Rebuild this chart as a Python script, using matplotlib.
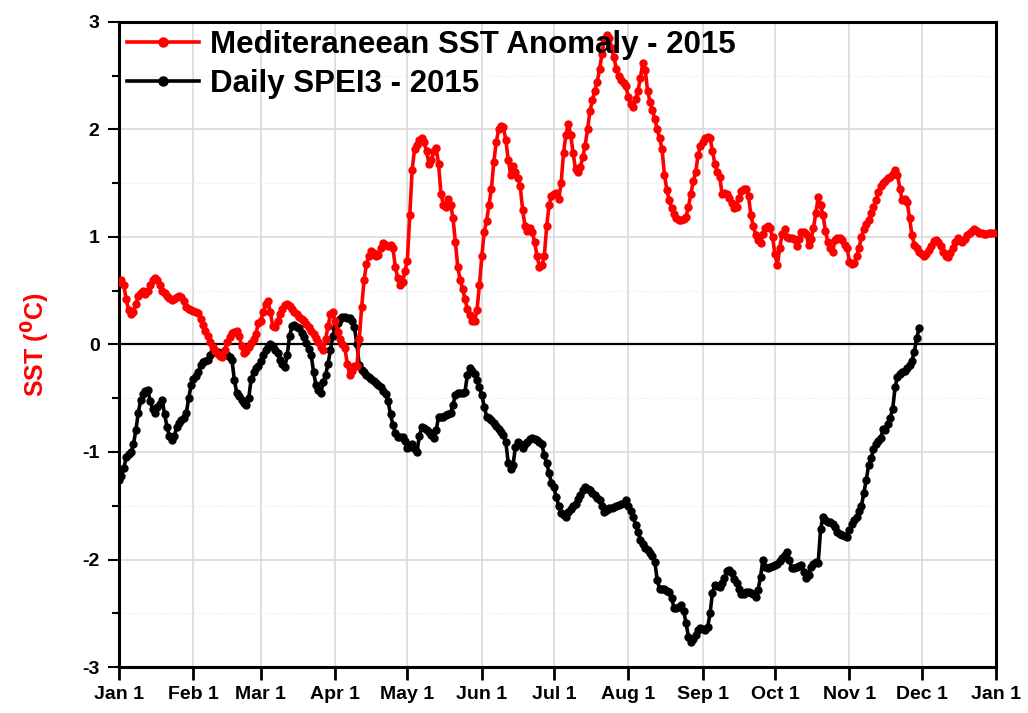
import numpy as np
import pandas as pd
import matplotlib
matplotlib.use('Agg')
import matplotlib.pyplot as plt
import matplotlib.dates as mdates
from matplotlib.ticker import MultipleLocator

# daily Mediterranean SST anomaly 2015 (Jan 1 .. Dec 31)
sst_jan = [0.58, 0.6, 0.55, 0.42, 0.32, 0.28, 0.3, 0.38, 0.45, 0.48, 0.5, 0.47, 0.5, 0.55, 0.6, 0.62,
           0.6, 0.55, 0.5, 0.48, 0.45, 0.43, 0.41, 0.42, 0.44, 0.45, 0.44, 0.4, 0.35, 0.33, 0.32]
sst_feb = [0.31, 0.3, 0.29, 0.24, 0.18, 0.13, 0.08, 0.02, -0.02, -0.06, -0.09, -0.11, -0.12, -0.05,
           0.02, 0.07, 0.11, 0.12, 0.13, 0.08, -0.01, -0.08, -0.06, -0.02, 0.01, 0.05, 0.1, 0.2]
sst_mar = [0.22, 0.3, 0.38, 0.4, 0.3, 0.17, 0.16, 0.22, 0.28, 0.33, 0.37, 0.38, 0.36, 0.33, 0.3, 0.28,
           0.26, 0.24, 0.22, 0.19, 0.16, 0.13, 0.1, 0.06, 0.02, -0.02, -0.05, 0.05, 0.17, 0.28, 0.3]
sst_apr = [0.22, 0.12, 0.05, 0.0, -0.03, -0.18, -0.28, -0.25, -0.2, -0.2, 0.05, 0.35, 0.6, 0.75, 0.82,
           0.87, 0.85, 0.82, 0.83, 0.9, 0.94, 0.93, 0.92, 0.93, 0.9, 0.72, 0.62, 0.55, 0.58, 0.68]
sst_may = [0.78, 1.2, 1.62, 1.82, 1.86, 1.9, 1.92, 1.88, 1.8, 1.68, 1.72, 1.8, 1.83, 1.68, 1.4, 1.3,
           1.28, 1.35, 1.3, 1.18, 0.95, 0.72, 0.6, 0.52, 0.42, 0.33, 0.27, 0.22, 0.22, 0.32, 0.55]
sst_jun = [0.82, 1.05, 1.15, 1.3, 1.45, 1.7, 1.88, 2.0, 2.03, 2.02, 1.9, 1.72, 1.58, 1.66, 1.6, 1.55,
           1.47, 1.25, 1.1, 1.06, 1.08, 1.05, 0.95, 0.82, 0.72, 0.74, 0.82, 1.1, 1.3, 1.38]
sst_jul = [1.4, 1.41, 1.35, 1.5, 1.78, 1.95, 2.05, 1.95, 1.78, 1.63, 1.6, 1.65, 1.74, 1.85, 2.0, 2.17,
           2.27, 2.36, 2.44, 2.56, 2.7, 2.84, 2.88, 2.85, 2.76, 2.67, 2.56, 2.5, 2.46, 2.43, 2.4]
sst_aug = [2.3, 2.24, 2.21, 2.28, 2.36, 2.48, 2.62, 2.55, 2.36, 2.26, 2.18, 2.1, 2.0, 1.92, 1.82, 1.58,
           1.44, 1.34, 1.27, 1.21, 1.18, 1.16, 1.16, 1.17, 1.19, 1.28, 1.4, 1.52, 1.6, 1.76, 1.85]
sst_sep = [1.88, 1.92, 1.93, 1.92, 1.8, 1.68, 1.6, 1.56, 1.4, 1.41, 1.4, 1.36, 1.32, 1.27, 1.28, 1.36,
           1.43, 1.45, 1.45, 1.38, 1.2, 1.1, 1.02, 0.97, 0.94, 1.03, 1.08, 1.1, 1.08, 1.0]
sst_oct = [0.84, 0.74, 0.9, 1.03, 1.07, 1.0, 0.99, 0.99, 0.98, 0.92, 0.98, 1.05, 1.05, 1.03, 0.93, 0.98,
           1.08, 1.22, 1.37, 1.3, 1.2, 1.06, 0.95, 0.9, 0.86, 0.97, 0.99, 0.99, 0.97, 0.93, 0.9]
sst_nov = [0.77, 0.75, 0.76, 0.82, 0.9, 1.0, 1.07, 1.12, 1.16, 1.22, 1.28, 1.34, 1.42, 1.47, 1.5, 1.52,
           1.55, 1.56, 1.59, 1.62, 1.58, 1.45, 1.34, 1.35, 1.33, 1.18, 1.02, 0.93, 0.9, 0.86]
sst_dec = [0.84, 0.82, 0.84, 0.88, 0.92, 0.96, 0.97, 0.95, 0.92, 0.86, 0.82, 0.81, 0.85, 0.9, 0.95, 0.99,
           0.97, 0.95, 0.98, 1.02, 1.04, 1.06, 1.07, 1.06, 1.04, 1.04, 1.03, 1.03, 1.04, 1.04, 1.04]

# daily SPEI3 2015 (Jan 1 .. Nov 30)
spei_jan = [-1.26, -1.22, -1.15, -1.05, -1.02, -1.0, -0.93, -0.8, -0.64, -0.52, -0.46, -0.43, -0.42,
            -0.53, -0.6, -0.64, -0.58, -0.55, -0.52, -0.65, -0.77, -0.85, -0.89, -0.85, -0.77, -0.73,
            -0.7, -0.68, -0.64, -0.5, -0.38]
spei_feb = [-0.32, -0.29, -0.26, -0.19, -0.16, -0.15, -0.14, -0.1, -0.07, -0.06, -0.07, -0.08, -0.08,
            -0.09, -0.1, -0.12, -0.14, -0.33, -0.45, -0.48, -0.52, -0.54, -0.56, -0.5, -0.32, -0.26,
            -0.22, -0.2]
spei_mar = [-0.15, -0.1, -0.05, -0.02, 0.0, -0.01, -0.05, -0.08, -0.14, -0.18, -0.21, -0.1, 0.08, 0.17,
            0.18, 0.16, 0.15, 0.11, 0.07, 0.01, -0.04, -0.1, -0.26, -0.38, -0.42, -0.45, -0.35, -0.28,
            -0.18, -0.05, 0.08]
spei_apr = [0.15, 0.2, 0.24, 0.26, 0.26, 0.25, 0.25, 0.22, 0.16, 0.0, -0.19, -0.24, -0.26, -0.28, -0.3,
            -0.32, -0.34, -0.36, -0.38, -0.4, -0.43, -0.46, -0.53, -0.65, -0.75, -0.82, -0.86, -0.86,
            -0.86, -0.9]
spei_may = [-0.96, -0.95, -0.93, -0.97, -1.0, -0.85, -0.77, -0.78, -0.8, -0.81, -0.84, -0.87, -0.8,
            -0.67, -0.67, -0.67, -0.66, -0.65, -0.64, -0.56, -0.47, -0.45, -0.45, -0.45, -0.44, -0.28,
            -0.22, -0.25, -0.27, -0.33, -0.4]
spei_jun = [-0.47, -0.58, -0.67, -0.68, -0.7, -0.73, -0.76, -0.79, -0.81, -0.84, -0.91, -1.1, -1.16,
            -1.12, -0.95, -0.91, -0.93, -0.96, -0.93, -0.91, -0.88, -0.87, -0.88, -0.89, -0.91, -0.93,
            -1.03, -1.1, -1.2, -1.29]
spei_jul = [-1.33, -1.42, -1.5, -1.57, -1.59, -1.6, -1.56, -1.53, -1.5, -1.48, -1.44, -1.4, -1.35,
            -1.33, -1.34, -1.35, -1.38, -1.4, -1.43, -1.45, -1.5, -1.56, -1.54, -1.52, -1.52, -1.51,
            -1.5, -1.49, -1.48, -1.47, -1.45]
spei_aug = [-1.5, -1.55, -1.6, -1.68, -1.74, -1.82, -1.86, -1.89, -1.91, -1.94, -1.97, -2.02, -2.19,
            -2.27, -2.27, -2.27, -2.29, -2.3, -2.36, -2.45, -2.45, -2.44, -2.42, -2.48, -2.59, -2.72,
            -2.77, -2.74, -2.7, -2.66, -2.64]
spei_sep = [-2.65, -2.66, -2.63, -2.5, -2.31, -2.24, -2.25, -2.26, -2.22, -2.17, -2.11, -2.1, -2.13,
            -2.18, -2.22, -2.27, -2.32, -2.32, -2.3, -2.3, -2.31, -2.32, -2.35, -2.28, -2.16, -2.0,
            -2.07, -2.08, -2.07, -2.06]
spei_oct = [-2.05, -2.04, -2.01, -1.99, -1.96, -1.93, -2.0, -2.08, -2.08, -2.07, -2.06, -2.05, -2.12,
            -2.17, -2.14, -2.07, -2.04, -2.02, -2.03, -1.72, -1.6, -1.63, -1.65, -1.65, -1.67, -1.7,
            -1.74, -1.76, -1.77, -1.78, -1.79]
spei_nov = [-1.73, -1.67, -1.63, -1.6, -1.55, -1.5, -1.38, -1.26, -1.12, -1.06, -0.97, -0.93, -0.9,
            -0.87, -0.79, -0.8, -0.74, -0.68, -0.6, -0.4, -0.3, -0.27, -0.26, -0.25, -0.22, -0.19,
            -0.15, -0.07, 0.06, 0.15]

sst = (sst_jan + sst_feb + sst_mar + sst_apr + sst_may + sst_jun +
       sst_jul + sst_aug + sst_sep + sst_oct + sst_nov + sst_dec)
spei = (spei_jan + spei_feb + spei_mar + spei_apr + spei_may + spei_jun +
        spei_jul + spei_aug + spei_sep + spei_oct + spei_nov)

sst_dates = pd.date_range('2015-01-01', periods=len(sst), freq='D')
spei_dates = pd.date_range('2015-01-01', periods=len(spei), freq='D')

month_ticks = pd.date_range('2015-01-01', '2016-01-01', freq='MS')
month_labels = ['Jan 1', 'Feb 1', 'Mar 1', 'Apr 1', 'May 1', 'Jun 1', 'Jul 1',
                'Aug 1', 'Sep 1', 'Oct 1', 'Nov 1', 'Dec 1', 'Jan 1']

plt.rcParams['font.family'] = ['Liberation Sans', 'DejaVu Sans']
plt.rcParams['font.weight'] = 'bold'
plt.rcParams['axes.unicode_minus'] = False

fig = plt.figure(figsize=(10.28, 7.13), dpi=100)
ax = fig.add_axes([119 / 1028, 1 - 667 / 713, 877 / 1028, 645 / 713])

ax.plot(sst_dates, sst, color='#ff0000', lw=2.6, marker='o', ms=5,
        label='Mediteraneean SST Anomaly - 2015', zorder=4)
ax.plot(spei_dates, spei, color='black', lw=2.6, marker='o', ms=5,
        label='Daily SPEI3 - 2015', zorder=3)
ax.axhline(0, color='black', lw=1.6, zorder=2)

ax.set_xlim(pd.Timestamp('2015-01-01'), pd.Timestamp('2016-01-01'))
ax.set_ylim(-3, 3)
ax.set_xticks(month_ticks)
ax.set_xticklabels(month_labels)
ax.yaxis.set_major_locator(MultipleLocator(1))
ax.yaxis.set_minor_locator(MultipleLocator(0.5))

ax.grid(True, which='major', color='#d9d9d9', lw=1.2, zorder=0)
ax.grid(True, which='minor', axis='y', color='#e6e6e6', lw=0.8, ls=':', zorder=0)
ax.set_axisbelow(True)

for s in ax.spines.values():
    s.set_linewidth(2.2)

ax.tick_params(axis='x', which='major', direction='out', length=9, width=2,
               labelsize=14, pad=5)
ax.tick_params(axis='y', which='major', direction='out', length=8, width=1.5,
               labelsize=14, pad=6)
ax.tick_params(axis='y', which='minor', direction='out', length=5, width=1.5)
ax.tick_params(top=False, right=False)
for lab in ax.get_xticklabels() + ax.get_yticklabels():
    lab.set_fontweight('bold')

ax.set_ylabel(r'SST ($\mathbf{^0}$C)', color='#ff0000', fontsize=18,
              fontweight='bold', labelpad=22)

leg = ax.legend(loc='upper left', frameon=False, fontsize=22.5, handlelength=2.3,
                handletextpad=0.35, labelspacing=0.3, borderaxespad=0.1,
                borderpad=0.15, markerscale=1.3)
for t in leg.get_texts():
    t.set_fontweight('bold')

fig.savefig('out.png', dpi=100)
